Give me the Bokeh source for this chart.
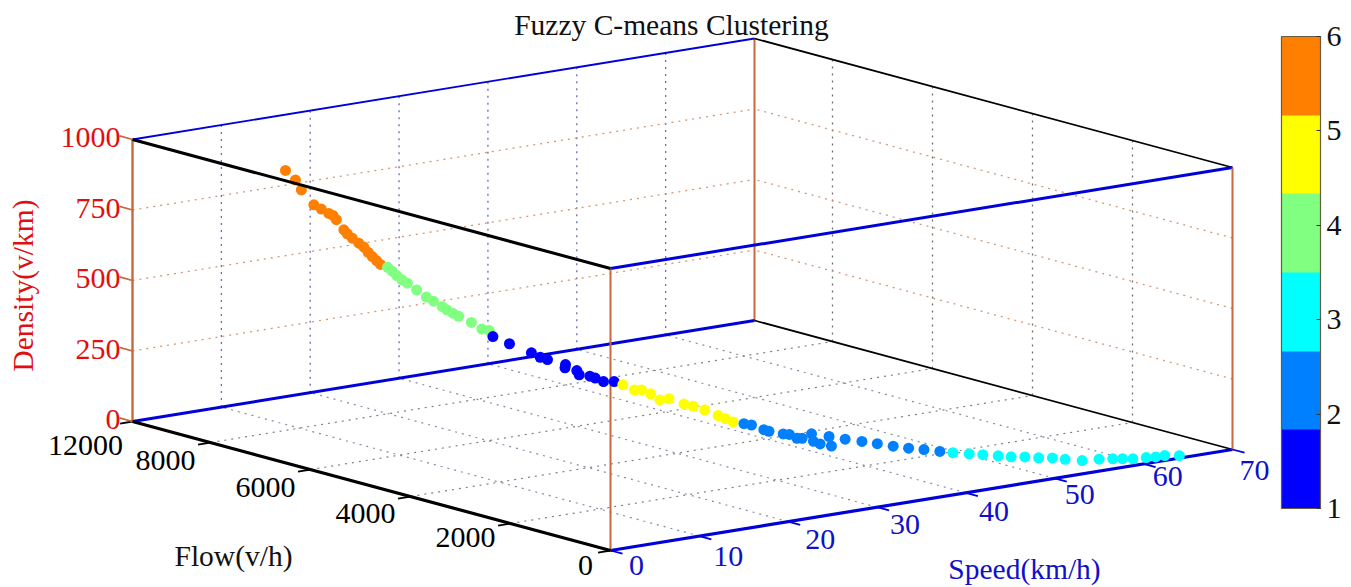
from bokeh.embed import file_html
from bokeh.resources import INLINE
from bokeh.plotting import figure
from bokeh.models import Range1d, ColumnDataSource, ColorBar, LinearColorMapper, FixedTicker
from bokeh.core.properties import value
from bokeh.transform import transform
import numpy as np

# ---------- data ----------
speed = [9.0,9.0,9.1,9.1,9.1,9.1,9.0,9.1,9.1,9.2,9.2,9.1,9.1,9.3,9.2,9.4,9.5,
         10.7,11.5,12.3,13.1,14.0,15.6,17.2,18.4,19.9,20.7,21.7,22.7,24.8,26.6,27.7,
         27.9,28.3,28.8,29.0,29.2,29.6,29.6,29.8,29.9,30.2,30.3,30.5,30.8,
         31.1,31.5,31.8,32.1,32.4,32.7,33.2,33.5,33.9,34.4,34.6,34.9,
         35.5,35.9,36.5,36.8,37.5,37.8,38.2,38.5,39.0,39.1,39.4,39.9,40.0,40.7,41.8,42.8,43.8,44.8,45.8,46.8,
         47.6,48.7,49.5,50.5,51.5,52.6,53.7,54.8,55.1,55.9,57.8,59.0,59.6,60.2,61.7,62.6,63.5,64.3]
flow = [8100,7900,7800,7550,7400,7250,7150,7100,6950,6900,6800,6650,6550,6500,6400,6350,6290,
        6360,6410,6460,6500,6550,6650,6740,6810,6900,6950,7010,7070,7190,7300,7350,
        7310,7050,6700,6560,6450,6160,6170,5970,5940,5780,5690,5560,5400,
        5280,5120,5030,4900,4770,4640,4430,4300,4140,3960,3850,3750,
        3640,3560,3420,3370,3210,3140,3060,3010,2910,2890,2810,2720,2690,2540,2400,2270,2130,2000,1870,1730,
        1610,1480,1350,1220,1140,1060,980,900,700,500,500,440,350,250,250,220,200,50]
density = [914,890,859,818,810,802,800,787,758,746,735,725,716,699,689,676,665,
           645,625,603,582,563,526,488,464,433,415,395,376,338,300,287,
           266,251,233,223,219,213,201,200,186,187,184,177,183,
           176,163,166,157,140,149,138,134,127,113,106,98,
           94,91,78,73,68,68,56,57,75,49,42,70,37,65,58,51,44,38,34,29,
           26,23,22,19,14,12,7,5,8,9,4,2,4,5,2,1,2,5]
cluster = [6]*17 + [4]*15 + [1]*13 + [5]*12 + [2]*20 + [3]*18

speed_ticks = [0,10,20,30,40,50,60,70]
flow_ticks = [0,2000,4000,6000,8000]
flow_end = 9560            # the far end of the flow axis, which the source labels 12000
flow_labels = ["0","2000","4000","6000","8000"]
flow_end_label = "12000"
density_ticks = [0,250,500,750,1000]
palette = ["#0000ff","#0080ff","#00ffff","#80ff80","#ffff00","#ff8000"]

# ---------- projection of the box onto the page ----------
ORIGIN = (610.0, 550.0)
SP_VEC = (622.0/70, -101.0/70)
FL_VEC = (-478.0/flow_end, -129.0/flow_end)
DE_VEC = -282.0/1000

def proj(s, f, d):
    s, f, d = np.asarray(s, float), np.asarray(f, float), np.asarray(d, float)
    return (ORIGIN[0] + s*SP_VEC[0] + f*FL_VEC[0],
            ORIGIN[1] + s*SP_VEC[1] + f*FL_VEC[1] + d*DE_VEC)

W, H = 1351, 587
p = figure(width=W, height=H, x_range=Range1d(0, W), y_range=Range1d(H, 0),
           output_backend="svg", toolbar_location=None, min_border=0,
           background_fill_color="white", border_fill_color="white", outline_line_color=None)
p.axis.visible = False
p.grid.visible = False

def seg(a, b, color, width, dash="solid", alpha=1.0):
    x0, y0 = proj(*a)
    x1, y1 = proj(*b)
    p.line([float(x0), float(x1)], [float(y0), float(y1)], line_color=color, line_width=width,
           line_dash=dash, line_alpha=alpha)

SMAX, FMAX, DMAX = speed_ticks[-1], flow_end, density_ticks[-1]
BLUE, SIENNA, BLACK = "#0000d8", "#c9683f", "#000000"
GRID_DOT = "2 5"

# grid: floor
for s in speed_ticks[1:-1]:
    seg((s,0,0),(s,FMAX,0),"#8a8aa8",1.2,GRID_DOT)
for f in flow_ticks[1:]:
    seg((0,f,0),(SMAX,f,0),"#808080",1.2,GRID_DOT)
# grid: walls
for s in speed_ticks[1:-1]:
    seg((s,FMAX,0),(s,FMAX,DMAX),"#6a6ab8",1.3,GRID_DOT)
for f in flow_ticks[1:]:
    seg((SMAX,f,0),(SMAX,f,DMAX),"#707070",1.3,GRID_DOT)
for d in density_ticks[1:-1]:
    seg((0,FMAX,d),(SMAX,FMAX,d),"#d09a78",1.3,GRID_DOT)
    seg((SMAX,0,d),(SMAX,FMAX,d),"#d09a78",1.3,GRID_DOT)

# box
seg((SMAX,FMAX,0),(SMAX,FMAX,DMAX),SIENNA,2)
seg((0,FMAX,DMAX),(SMAX,FMAX,DMAX),BLUE,1.8)
seg((SMAX,0,DMAX),(SMAX,FMAX,DMAX),BLACK,1.8)
seg((SMAX,0,0),(SMAX,FMAX,0),BLACK,1.8)
seg((0,FMAX,0),(SMAX,FMAX,0),BLUE,3)
seg((0,0,0),(SMAX,0,0),BLUE,3.2)
seg((0,0,DMAX),(SMAX,0,DMAX),BLUE,3)
seg((0,0,0),(0,0,DMAX),SIENNA,2)
seg((SMAX,0,0),(SMAX,0,DMAX),SIENNA,2)
seg((0,FMAX,0),(0,FMAX,DMAX),SIENNA,2.4)

# ticks
for s in speed_ticks:
    seg((s,0,0),(s,-240,0),BLUE,1.8)
for f in flow_ticks + [flow_end]:
    seg((0,f,0),(-1.4,f,0),BLACK,1.8)
for d in density_ticks:
    seg((0,FMAX,d),(0,FMAX+260,d),SIENNA,1.8)

# data
mapper = LinearColorMapper(palette=palette, low=1, high=6)
src = ColumnDataSource(dict(x=proj(speed,flow,density)[0], y=proj(speed,flow,density)[1], c=cluster))
p.scatter("x","y",source=src,size=11,marker="circle",
          fill_color=transform("c",mapper),line_color=None)

# edges that pass in front of the points
seg((0,0,0),(0,FMAX,0),BLACK,3.2)
seg((0,0,DMAX),(0,FMAX,DMAX),BLACK,3)

FONT = value("Liberation Serif")
FS = "30px"
TS = "29.5px"
RED, TBLUE = "#e01010", "#1010c8"

def labels(xs, ys, txt, color, align="center", dx=0, dy=0, size=FS, angle=0.0):
    p.text(x=list(xs), y=list(ys), text=list(txt), text_color=color, text_font=FONT,
           text_font_size=size, text_align=align, text_baseline="middle",
           x_offset=dx, y_offset=dy, angle=angle)

# tick labels (offsets in px from each tick)
x, y = proj([0]*5, [FMAX]*5, density_ticks)
labels(x, y, [str(d) for d in density_ticks], RED, align="right", dx=-12, dy=-2)

sx, sy = proj(speed_ticks, [0]*8, [0]*8)
sp_dx = [26,29,32,28,28,25,24,22]
sp_dy = [15,20,18,17,19,16,13,21]
for xi, yi, t, a, b in zip(sx, sy, speed_ticks, sp_dx, sp_dy):
    labels([xi],[yi],[str(t)],TBLUE,dx=a,dy=b)

fx, fy = proj([0]*5, flow_ticks, [0]*5)
fl_dx = [-25,-45,-45,-45,-45]
fl_dy = [15,14,17,18,18]
for xi, yi, t, a, b in zip(fx, fy, flow_labels, fl_dx, fl_dy):
    labels([xi],[yi],[t],BLACK,dx=a,dy=b)
ex, ey = proj([0],[flow_end],[0])
labels(ex, ey, [flow_end_label], BLACK, dx=-47, dy=24)

# titles
labels([671],[24],["Fuzzy C-means Clustering"],"#111111",size=TS)
labels([233],[555],["Flow(v/h)"],"#111111",size=TS)
labels([1024],[568],["Speed(km/h)"],TBLUE,size=TS)
labels([22],[285],["Density(v/km)"],RED,size=TS,angle=np.pi/2)

# colour bar
cb = ColorBar(color_mapper=mapper, location=(1281,79), width=39, height=472,
              ticker=FixedTicker(ticks=[1,2,3,4,5,6]),
              major_label_text_font="Liberation Serif", major_label_text_font_size=FS,
              major_label_text_color="#111111",
              bar_line_color="#6b5b3b", bar_line_width=1.2,
              major_tick_line_color="#333333", major_tick_in=4,
              label_standoff=6, padding=0, margin=0,
              background_fill_alpha=0, border_line_color=None)
p.add_layout(cb, "center")

open("out.html","w").write(file_html(p, INLINE))
